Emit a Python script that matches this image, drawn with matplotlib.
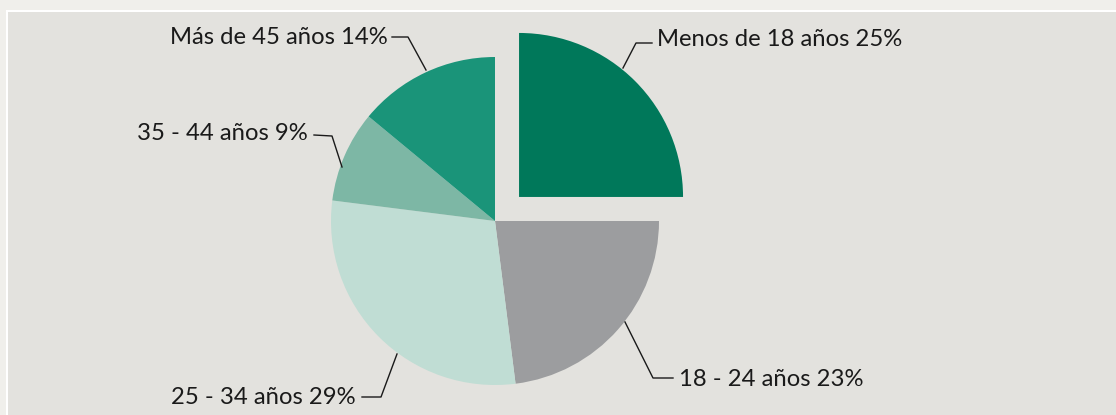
import matplotlib
matplotlib.use("Agg")
import matplotlib.pyplot as plt
from matplotlib.patches import Rectangle

# ---- data ----
categories = ["Menos de 18 años", "18 - 24 años", "25 - 34 años", "35 - 44 años", "Más de 45 años"]
values = [25, 23, 29, 9, 14]
colors = ["#00785a", "#9c9d9f", "#c0ddd4", "#7db7a5", "#1a9479"]

# ---- layout (image pixel coords, y from top) ----
W, H = 1116, 415
cx, cy, R = 495, 221, 164
explode_px = [34, 0, 0, 0, 0]
# leader lines: (start, knee, end) and label anchor / alignment
leaders = [
    [(623, 68), (636, 43), (652, 43)],
    [(625, 322), (653, 378), (673, 378)],
    [(397, 354), (381, 397), (362, 397)],
    [(342, 167), (332, 136), (314, 135)],
    [(426, 70), (408, 37), (392, 37)],
]
label_pos = [(657, 40), (679, 380), (356, 397), (308, 134), (388, 37)]
label_ha = ["left", "left", "right", "right", "right"]

plt.rcParams['font.family'] = ['Lato', 'DejaVu Sans']

fig = plt.figure(figsize=(W / 100, H / 100), dpi=100)
fig.patch.set_facecolor("#f0efeb")
ax = fig.add_axes([0, 0, 1, 1])

# panel with white border
ax.add_patch(Rectangle((6, -10), W + 20, H - 10 + 10, facecolor="white", edgecolor="none", zorder=0))
ax.add_patch(Rectangle((8, -10), W + 20, H - 12 + 10, facecolor="#e3e2de", edgecolor="none", zorder=0))

ax.pie(values, colors=colors, startangle=90, counterclock=False,
       radius=R, center=(cx, H - cy), explode=explode_px,
       wedgeprops=dict(linewidth=0, zorder=2))

for i, cat in enumerate(categories):
    pts = leaders[i]
    ax.plot([p[0] for p in pts], [H - p[1] for p in pts], color="#1a1a1a", lw=1.0, zorder=3)
    x, y = label_pos[i]
    ax.text(x, H - y, f"{cat} {values[i]}%", ha=label_ha[i], va="center",
            fontsize=17.2, color="#1a1a1a", zorder=4)

ax.set_xlim(0, W)
ax.set_ylim(0, H)
ax.set_aspect("equal")
ax.axis("off")
fig.savefig("out.png", dpi=100, facecolor=fig.get_facecolor())
